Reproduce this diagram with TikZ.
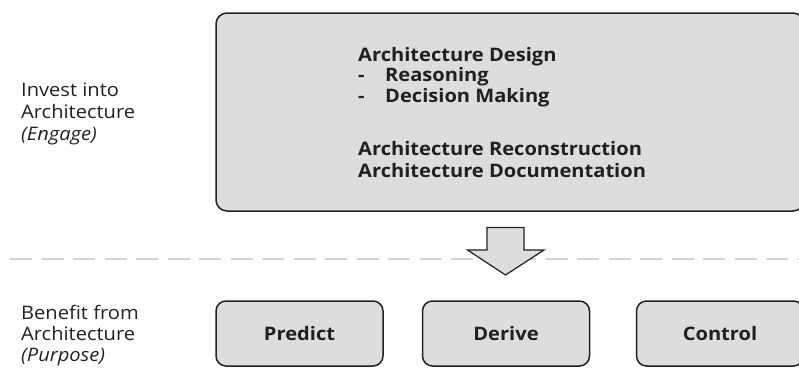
\documentclass[tikz,border=0pt]{standalone}
\usepackage{fontspec}
\setmainfont{Open Sans}[FakeStretch=1.08]
\definecolor{boxfill}{HTML}{DCDDDF}
\definecolor{ink}{HTML}{231F20}
\definecolor{divider}{HTML}{D1D2D4}
\begin{document}
\begin{tikzpicture}[x=1pt,y=-1pt,
  txt/.style={anchor=base west,inner sep=0pt,text=ink,font=\fontsize{18.6}{22}\selectfont},
  btxt/.style={txt,font=\fontsize{18.6}{22}\selectfont\bfseries},
  panel/.style={draw=ink,line width=1.5pt,fill=boxfill,rounded corners=11pt},
  goal/.style={draw=ink,line width=1.5pt,fill=boxfill,rounded corners=10pt,
    minimum width=167pt,minimum height=65pt,inner sep=0pt,
    font=\fontsize{18.6}{22}\selectfont\bfseries,text=ink}]
\useasboundingbox (0,0) rectangle (799,367);

% divider between the two layers
\draw[divider,line width=2pt,dash pattern=on 22pt off 9.5pt] (10,258.5) -- (799,258.5);

% engage layer
\draw[panel] (216,13) rectangle (804,211);
\node[btxt] (design) at (358,61) {Architecture Design};
\node[btxt] (dashA) at (358,81.5) {-};
\node[btxt] (reason) at (385,81.5) {Reasoning};
\node[btxt] (dashB) at (358,102) {-};
\node[btxt] (decide) at (385,102) {Decision Making};
\node[btxt] (recon) at (358,155) {Architecture Reconstruction};
\node[btxt] (docu) at (358,177) {Architecture Documentation};

\node[txt] (inv1) at (21,96) {Invest into};
\node[txt] (inv2) at (21,118) {Architecture};
\node[txt] (inv3) at (21,140) {\itshape(Engage)};

% block arrow from engage to purpose
\draw[draw=ink,line width=1.2pt,fill=boxfill,line join=miter]
  (487,227.5) -- (524,227.5) -- (524,250) -- (544,250) -- (505.5,275)
  -- (467.5,250) -- (487,250) -- cycle;

% purpose layer
\node[txt] (ben1) at (21,319) {Benefit from};
\node[txt] (ben2) at (21,340) {Architecture};
\node[txt] (ben3) at (21,361) {\itshape(Purpose)};

\node[goal] (predict) at (299.5,333.5) {Predict};
\node[goal] (derive) at (506,333.5) {Derive};
\node[goal] (control) at (720,333.5) {Control};
\end{tikzpicture}
\end{document}
